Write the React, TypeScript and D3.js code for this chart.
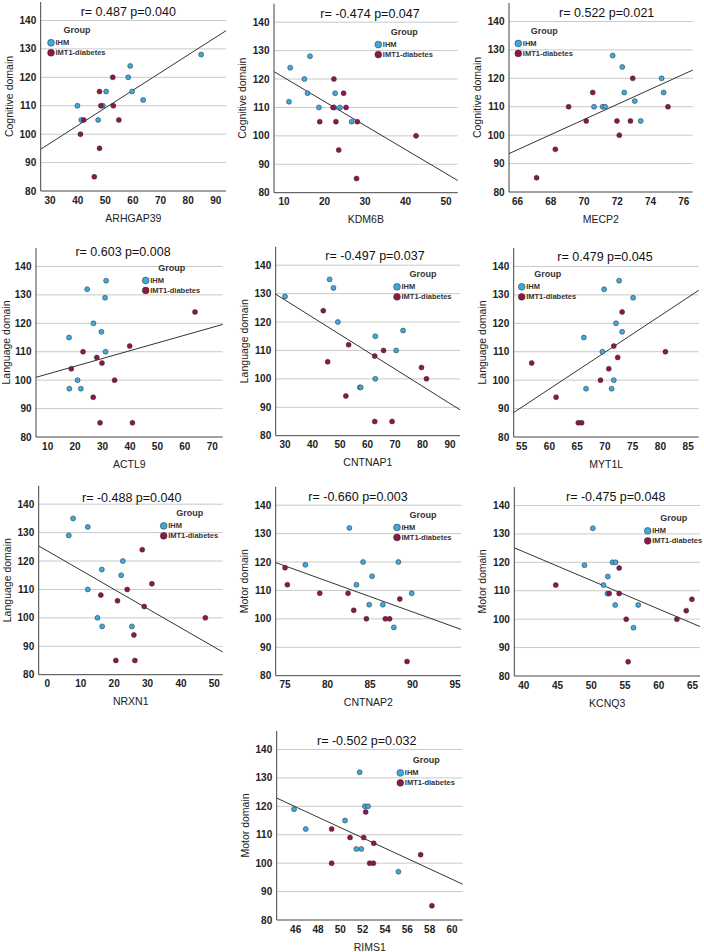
import React from "react";
import * as d3 from "d3";

type Pt = [number, number];

// expression value vs domain score, split by group
const arhgap39Ihm: Pt[] = [[84.7, 128], [59.0, 124], [58.3, 120], [59.7, 115], [50.3, 115], [63.7, 112], [39.9, 110], [49.1, 110], [47.4, 105], [41.3, 105]];
const arhgap39Dm: Pt[] = [[52.7, 120], [47.9, 115], [48.4, 110], [52.9, 110], [42.2, 105], [54.9, 105], [41.0, 100], [47.9, 95], [46.0, 85]];

const kdm6bIhm: Pt[] = [[16.4, 128], [11.5, 124], [15.0, 120], [15.8, 115], [22.6, 115], [11.2, 112], [18.6, 110], [22.4, 110], [23.8, 110], [26.7, 105]];
const kdm6bDm: Pt[] = [[22.3, 120], [24.7, 115], [22.1, 110], [25.3, 110], [18.8, 105], [22.8, 105], [28.1, 105], [42.6, 100], [23.5, 95], [27.9, 85]];

const mecp2Ihm: Pt[] = [[71.72, 128], [72.3, 124], [74.67, 120], [72.42, 115], [74.79, 115], [73.05, 112], [70.6, 110], [71.12, 110], [71.26, 110], [73.41, 105]];
const mecp2Dm: Pt[] = [[72.93, 120], [70.52, 115], [69.07, 110], [75.05, 110], [70.13, 105], [71.98, 105], [72.79, 105], [72.12, 100], [68.27, 95], [67.14, 85]];

const actl9Ihm: Pt[] = [[31.3, 135], [24.4, 132], [30.9, 129], [26.7, 120], [29.6, 117], [17.8, 115], [31.1, 110], [20.9, 100], [17.9, 97], [22.1, 97]];
const actl9Dm: Pt[] = [[63.7, 124], [39.9, 112], [22.9, 110], [27.9, 108], [29.8, 106], [18.6, 104], [34.4, 100], [26.6, 94], [29.1, 85], [40.9, 85]];

const cntnap1Ihm: Pt[] = [[30.0, 129], [46.2, 135], [47.6, 132], [49.2, 120], [72.9, 117], [62.8, 115], [70.4, 110], [62.8, 100], [57.2, 97], [57.5, 97]];
const cntnap1Dm: Pt[] = [[43.9, 124], [53.1, 112], [65.8, 110], [62.6, 108], [45.5, 106], [79.6, 104], [81.4, 100], [52.1, 94], [62.6, 85], [68.9, 85]];

const myt1lIhm: Pt[] = [[72.56, 135], [69.86, 132], [75.08, 129], [72.0, 120], [73.1, 117], [66.2, 115], [69.55, 110], [71.6, 100], [66.6, 97], [71.2, 97]];
const myt1lDm: Pt[] = [[73.1, 124], [71.6, 112], [80.9, 110], [72.3, 108], [70.7, 104], [69.2, 100], [56.8, 106], [61.2, 94], [65.2, 85], [65.8, 85]];

const nrxn1Ihm: Pt[] = [[7.7, 135], [12.1, 132], [6.4, 129], [22.6, 120], [16.3, 117], [22.1, 115], [12.1, 110], [15.0, 100], [16.4, 97], [25.3, 97]];
const nrxn1Dm: Pt[] = [[28.4, 124], [31.3, 112], [23.9, 110], [16.0, 108], [21.0, 106], [29.0, 104], [47.3, 100], [25.9, 94], [20.5, 85], [26.2, 85]];

const cntnap2Ihm: Pt[] = [[82.57, 132], [84.18, 120], [88.33, 120], [77.39, 119], [85.24, 115], [83.4, 112], [89.9, 109], [84.9, 105], [86.5, 105], [87.8, 97]];
const cntnap2Dm: Pt[] = [[75.0, 118], [75.27, 112], [79.08, 109], [82.41, 109], [88.5, 107], [83.08, 103], [84.57, 100], [86.8, 100], [87.3, 100], [89.35, 85]];

const kcnq3Ihm: Pt[] = [[50.23, 132], [53.14, 120], [53.59, 120], [48.99, 119], [52.45, 115], [51.81, 112], [52.4, 109], [53.54, 105], [56.95, 105], [56.25, 97]];
const kcnq3Dm: Pt[] = [[54.13, 118], [44.74, 112], [52.65, 109], [54.13, 109], [64.9, 107], [64.06, 103], [55.17, 100], [62.68, 100], [55.46, 85]];

const rims1Ihm: Pt[] = [[51.73, 132], [52.2, 120], [52.48, 120], [45.85, 119], [50.42, 115], [46.9, 112], [51.43, 105], [51.88, 105], [55.2, 97]];
const rims1Dm: Pt[] = [[52.27, 118], [49.22, 112], [50.87, 109], [52.09, 109], [52.99, 107], [57.19, 103], [49.22, 100], [52.63, 100], [52.96, 100], [58.2, 85]];

const ihmSets = [arhgap39Ihm, kdm6bIhm, mecp2Ihm, actl9Ihm, cntnap1Ihm, myt1lIhm, nrxn1Ihm, cntnap2Ihm, kcnq3Ihm, rims1Ihm];
const dmSets = [arhgap39Dm, kdm6bDm, mecp2Dm, actl9Dm, cntnap1Dm, myt1lDm, nrxn1Dm, cntnap2Dm, kcnq3Dm, rims1Dm];

const geneNames = ["ARHGAP39", "KDM6B", "MECP2", "ACTL9", "CNTNAP1", "MYT1L", "NRXN1", "CNTNAP2", "KCNQ3", "RIMS1"];
const domainNames = [
  "Cognitive domain", "Cognitive domain", "Cognitive domain",
  "Language domain", "Language domain", "Language domain", "Language domain",
  "Motor domain", "Motor domain", "Motor domain",
];
const statLabels = [
  "r= 0.487 p=0.040", "r= -0.474 p=0.047", "r= 0.522 p=0.021",
  "r= 0.603 p=0.008", "r= -0.497 p=0.037", "r= 0.479 p=0.045",
  "r= -0.488 p=0.040", "r= -0.660 p=0.003", "r= -0.475 p=0.048",
  "r= -0.502 p=0.032",
];

const xExtents: Pt[] = [[26.6, 93.7], [7.5, 52.9], [65.48, 76.54], [5.75, 73.8], [26.6, 93.6], [53.56, 86.9], [-2.6, 52.5], [73.9, 95.7], [38.6, 66.1], [44.3, 60.96]];
const xTickSets = [
  [30, 40, 50, 60, 70, 80, 90],
  [10, 20, 30, 40, 50],
  [66, 68, 70, 72, 74, 76],
  [10, 20, 30, 40, 50, 60, 70],
  [30, 40, 50, 60, 70, 80, 90],
  [55, 60, 65, 70, 75, 80, 85],
  [0, 10, 20, 30, 40, 50],
  [75, 80, 85, 90, 95],
  [40, 45, 50, 55, 60, 65],
  [46, 48, 50, 52, 54, 56, 58, 60],
];
// fitted line: y at left and right edge of x extent
const fitEnds: Pt[] = [[94.7, 136.4], [122.6, 84.3], [93.5, 122.9], [101, 119.6], [129.8, 89.1], [88.6, 131.6], [125.3, 88.0], [119.8, 96.3], [125.1, 97.4], [122.9, 92.6]];

const yTicks = [80, 90, 100, 110, 120, 130, 140];
const yExtent: Pt = [80, 146.5];

// panel placement: plot left, y of the x axis, plot width, title/legend offsets
const frames = [
  { x: 40.7, y: 191, w: 185.3, tx: 87.6, ty: 8.7, lx: 10.3, ly: 22.3 },
  { x: 274, y: 192.7, w: 183.7, tx: 96, ty: 9, lx: 104.3, ly: 22.4 },
  { x: 509, y: 192, w: 183.7, tx: 97.7, ty: 8.6, lx: 9.3, ly: 22 },
  { x: 36, y: 437, w: 186.7, tx: 87, ty: 14.6, lx: 109.7, ly: 14 },
  { x: 275.7, y: 435.7, w: 184.3, tx: 99.3, ty: 10, lx: 121.3, ly: 21.7 },
  { x: 513.7, y: 437, w: 185, tx: 91.3, ty: 9.6, lx: 8, ly: 20.4 },
  { x: 38.7, y: 674.7, w: 184, tx: 93, ty: 6.7, lx: 125, ly: 21.7 },
  { x: 275.7, y: 675.7, w: 185.3, tx: 82.3, ty: 8.3, lx: 121.3, ly: 22.3 },
  { x: 514.3, y: 676, w: 185.7, tx: 101.4, ty: 8.6, lx: 133.4, ly: 25.4 },
  { x: 276.7, y: 920, w: 186, tx: 90, ty: 9, lx: 123.6, ly: 23.4 },
];

const PLOT_H = 189;
const BLUE = "#3ea8e0";
const MAROON = "#8c1848";
const FONT = "Arial, 'Liberation Sans', Helvetica, sans-serif";

function Panel({ i }: { i: number }) {
  const f = frames[i];
  const x = d3.scaleLinear().domain(xExtents[i]).range([0, f.w]);
  const y = d3.scaleLinear().domain(yExtent).range([PLOT_H, 0]);
  const fit = d3.line<Pt>().x((d) => x(d[0])).y((d) => y(d[1]));
  const fitPts: Pt[] = [[xExtents[i][0], fitEnds[i][0]], [xExtents[i][1], fitEnds[i][1]]];
  const y140 = y(140);
  // keep the rotated axis title inside the page on the left column
  const titleOff = Math.min(31.5, f.x - 6.5);

  return (
    <g transform={`translate(${f.x},${f.y - PLOT_H})`} fontFamily={FONT}>
      {yTicks.slice(1).map((t) => (
        <line key={t} x1={0} x2={f.w} y1={y(t)} y2={y(t)} stroke="#c9c9c9" strokeWidth={1} />
      ))}
      <line x1={0} x2={0} y1={0} y2={PLOT_H} stroke="#444" strokeWidth={1} />
      <line x1={0} x2={f.w} y1={PLOT_H} y2={PLOT_H} stroke="#444" strokeWidth={1} />

      {yTicks.map((t) => (
        <text key={t} x={-4.5} y={y(t)} dy="0.35em" textAnchor="end" fontSize={10} fontWeight="bold" fill="#222">
          {t}
        </text>
      ))}
      {xTickSets[i].map((t) => (
        <text key={t} x={x(t)} y={PLOT_H + 12.5} textAnchor="middle" fontSize={10} fontWeight="bold" fill="#222">
          {t}
        </text>
      ))}

      <text x={f.w / 2} y={PLOT_H + 30.5} textAnchor="middle" fontSize={10.5} fill="#222">
        {geneNames[i]}
      </text>
      <text
        transform={`translate(${-titleOff},${PLOT_H / 2}) rotate(-90)`}
        textAnchor="middle"
        dy="0.35em"
        fontSize={10.5}
        fill="#222"
      >
        {domainNames[i]}
      </text>

      <path d={fit(fitPts) ?? ""} fill="none" stroke="#333" strokeWidth={1} />

      {ihmSets[i].map((d, k) => (
        <circle key={`a${k}`} cx={x(d[0])} cy={y(d[1])} r={2.5} fill={BLUE} stroke="#2a2a2a" strokeWidth={0.5} />
      ))}
      {dmSets[i].map((d, k) => (
        <circle key={`b${k}`} cx={x(d[0])} cy={y(d[1])} r={2.5} fill={MAROON} stroke="#2a2a2a" strokeWidth={0.5} />
      ))}

      <text x={f.tx} y={y140 - f.ty} dy="0.35em" textAnchor="middle" fontSize={12.5} fill="#111">
        {statLabels[i]}
      </text>

      <g transform={`translate(${f.lx},${y140 + f.ly})`}>
        <text x={26} y={-13} dy="0.35em" textAnchor="middle" fontSize={9} fontWeight="bold" fill="#333">
          Group
        </text>
        <circle cx={0} cy={0} r={3.4} fill={BLUE} stroke="#2a2a2a" strokeWidth={0.5} />
        <circle cx={0} cy={10} r={3.4} fill={MAROON} stroke="#2a2a2a" strokeWidth={0.5} />
        <text x={4.5} y={0} dy="0.35em" fontSize={7.5} fontWeight="bold" fill="#333">IHM</text>
        <text x={4.5} y={10} dy="0.35em" fontSize={7.5} fontWeight="bold" fill="#333">IMT1-diabetes</text>
      </g>
    </g>
  );
}

export default function App() {
  return (
    <svg width={704} height={952} style={{ position: "absolute", left: 0, top: 0, background: "#fff" }}>
      <rect width={704} height={952} fill="#fff" />
      {geneNames.map((_, i) => (
        <Panel key={i} i={i} />
      ))}
    </svg>
  );
}
